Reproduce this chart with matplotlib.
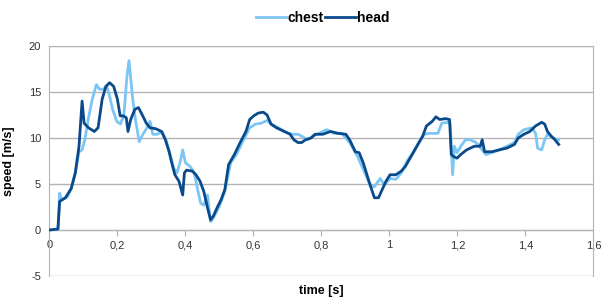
import matplotlib.pyplot as plt
import matplotlib.ticker as mticker

plt.rcParams['font.family'] = ['Liberation Sans', 'DejaVu Sans']
plt.rcParams['axes.unicode_minus'] = False

# head (dark blue)
head_t = [0, 0.025, 0.03, 0.047, 0.064, 0.076, 0.087, 0.096, 0.102, 0.115, 0.132, 0.143,
          0.155, 0.166, 0.177, 0.189, 0.2, 0.208, 0.217, 0.226, 0.231, 0.239, 0.251, 0.262,
          0.273, 0.285, 0.296, 0.313, 0.33, 0.341, 0.352, 0.361, 0.369, 0.381, 0.392, 0.397,
          0.403, 0.42, 0.431, 0.443, 0.454, 0.465, 0.474, 0.482, 0.493, 0.505, 0.516, 0.527,
          0.544, 0.561, 0.578, 0.589, 0.601, 0.614, 0.629, 0.64, 0.652, 0.668, 0.691, 0.708,
          0.719, 0.731, 0.742, 0.753, 0.77, 0.781, 0.804, 0.827, 0.849, 0.872, 0.883, 0.9,
          0.911, 0.923, 0.934, 0.945, 0.956, 0.968, 0.979, 0.99, 1.002, 1.019, 1.035, 1.047,
          1.064, 1.081, 1.098, 1.109, 1.126, 1.137, 1.148, 1.165, 1.177, 1.182, 1.188, 1.199,
          1.21, 1.227, 1.25, 1.267, 1.273, 1.28, 1.301, 1.323, 1.346, 1.368, 1.379, 1.396,
          1.413, 1.43, 1.448, 1.457, 1.465, 1.476, 1.487, 1.498]
head_v = [0, 0.1, 3.1, 3.5, 4.5, 6.2, 9.1, 14.0, 11.6, 11.1, 10.7, 11.1,
          14.2, 15.6, 16.0, 15.6, 14.2, 12.4, 12.4, 12.2, 10.7, 12.0, 13.1, 13.3,
          12.5, 11.6, 11.1, 11.0, 10.7, 9.8, 8.5, 7.1, 6.0, 5.3, 3.8, 6.2,
          6.5, 6.4, 6.0, 5.3, 4.2, 2.4, 1.1, 1.5, 2.4, 3.3, 4.4, 7.1,
          8.2, 9.5, 10.7, 12.0, 12.4, 12.7, 12.8, 12.5, 11.5, 11.1, 10.7, 10.4,
          9.8, 9.5, 9.5, 9.8, 10.0, 10.4, 10.4, 10.7, 10.5, 10.4, 9.8, 8.5,
          8.4, 7.3, 6.0, 4.7, 3.5, 3.5, 4.4, 5.3, 6.0, 6.0, 6.4, 6.9,
          8.0, 9.1, 10.2, 11.3, 11.8, 12.3, 12.0, 12.1, 12.0, 8.2, 8.0, 7.8,
          8.2, 8.7, 9.1, 9.1, 9.8, 8.5, 8.5, 8.7, 8.9, 9.3, 10.0, 10.4,
          10.7, 11.3, 11.7, 11.5, 10.7, 10.2, 9.8, 9.3]

# chest (light blue)
chest_t = [0, 0.025, 0.03, 0.036, 0.053, 0.064, 0.076, 0.087, 0.096, 0.104, 0.115, 0.126,
           0.138, 0.147, 0.158, 0.169, 0.177, 0.186, 0.198, 0.209, 0.219, 0.228, 0.234, 0.239,
           0.245, 0.253, 0.264, 0.275, 0.287, 0.296, 0.304, 0.318, 0.33, 0.343, 0.355, 0.366,
           0.375, 0.384, 0.392, 0.4, 0.414, 0.426, 0.437, 0.445, 0.454, 0.465, 0.474, 0.482,
           0.499, 0.516, 0.533, 0.55, 0.567, 0.589, 0.606, 0.623, 0.64, 0.652, 0.674, 0.691,
           0.713, 0.731, 0.742, 0.759, 0.776, 0.793, 0.815, 0.838, 0.86, 0.883, 0.906, 0.928,
           0.945, 0.956, 0.973, 0.985, 1.002, 1.019, 1.035, 1.052, 1.069, 1.086, 1.103, 1.12,
           1.143, 1.154, 1.171, 1.179, 1.186, 1.191, 1.199, 1.21, 1.224, 1.238, 1.255, 1.273,
           1.284, 1.301, 1.323, 1.346, 1.368, 1.379, 1.396, 1.419, 1.43, 1.436, 1.448, 1.457,
           1.465, 1.482, 1.498]
chest_v = [0, 0.1, 4.0, 3.3, 3.6, 4.5, 6.2, 8.5, 8.7, 9.8, 12.2, 14.2,
           15.8, 15.3, 15.3, 15.6, 14.5, 13.1, 11.8, 11.5, 12.5, 16.7, 18.4, 16.5,
           14.2, 12.0, 9.6, 10.4, 11.1, 11.8, 10.4, 10.4, 10.7, 9.8, 8.2, 6.7,
           6.2, 7.3, 8.7, 7.3, 6.9, 6.2, 4.2, 2.9, 2.7, 3.8, 0.9, 1.3,
           2.5, 4.2, 7.3, 8.2, 9.5, 11.1, 11.5, 11.6, 11.9, 11.5, 11.1, 10.7,
           10.4, 10.4, 10.2, 9.8, 10.2, 10.5, 10.9, 10.5, 10.5, 9.5, 8.0, 6.2,
           4.7, 4.7, 5.6, 4.9, 5.6, 5.5, 6.2, 7.5, 8.4, 9.5, 10.4, 10.5,
           10.5, 11.6, 11.7, 11.5, 6.0, 9.1, 8.4, 9.1, 9.8, 9.8, 9.5, 8.7,
           8.2, 8.4, 8.7, 9.1, 9.5, 10.4, 10.9, 11.1, 10.5, 8.9, 8.7, 9.8,
           10.4, 10.0, 9.8]

x_ticks = [0, 0.2, 0.4, 0.6, 0.8, 1, 1.2, 1.4, 1.6]
y_ticks = [-5, 0, 5, 10, 15, 20]

fig = plt.figure(figsize=(6.03, 3.0), dpi=100)
ax = fig.add_axes([0.082, 0.08, 0.902, 0.767])

ax.plot(chest_t, chest_v, color='#7cc6f6', lw=2, label='chest', zorder=3)
ax.plot(head_t, head_v, color='#0b4a8a', lw=2, label='head', zorder=4)

ax.set_xlim(0, 1.6)
ax.set_ylim(-5, 20)
ax.set_xticks(x_ticks)
ax.set_yticks(y_ticks)
ax.xaxis.set_major_formatter(mticker.FuncFormatter(lambda v, p: ('%g' % v).replace('.', ',')))

for y in y_ticks:
    ax.axhline(y, color='#b4b4b4', lw=1, zorder=1)

ax.spines['bottom'].set_position(('data', 0))
for s in ['left', 'right', 'top', 'bottom']:
    ax.spines[s].set_color('#b4b4b4')
ax.tick_params(axis='x', colors='#b4b4b4', labelcolor='#333333', labelsize=8, length=4, direction='out')
ax.tick_params(axis='y', colors='#b4b4b4', labelcolor='#333333', labelsize=8, length=0, pad=6)

ax.set_ylabel('speed [m/s]', fontsize=9, fontweight='bold', labelpad=10)
fig.text(0.533, 0.02, 'time [s]', fontsize=9, fontweight='bold', ha='center')

fig.legend(loc='center', bbox_to_anchor=(0.535, 0.94), ncol=2, frameon=False,
           handlelength=2.2, handletextpad=0.1, columnspacing=0.1,
           prop={'weight': 'bold', 'size': 10})

fig.savefig('out.png', dpi=100)
